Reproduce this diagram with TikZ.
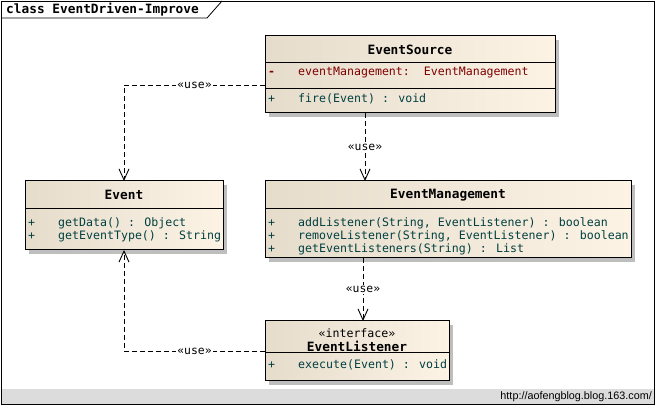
\documentclass[tikz,border=0pt]{standalone}
\usepackage{fontspec}
\usetikzlibrary{arrows.meta,calc,shadows}
\newfontfamily\umono{DejaVu Sans Mono}
\newfontfamily\usans{Liberation Sans}
\definecolor{membc}{RGB}{0,64,64}
\definecolor{attrc}{RGB}{128,0,0}
\definecolor{boxl}{RGB}{230,220,204}
\definecolor{boxr}{RGB}{252,243,229}
\definecolor{shadowc}{RGB}{190,190,190}
\definecolor{bandc}{RGB}{220,220,220}
\tikzset{
  umlbox/.style={draw=black, line width=1pt, left color=boxl, right color=boxr,
    drop shadow={shadow xshift=4pt, shadow yshift=-4pt, fill=shadowc, opacity=1},
    anchor=north west, inner sep=0pt, outer sep=0pt},
  hdr/.style={font=\umono\bfseries\fontsize{12.8}{14}\selectfont, inner sep=0pt},
  stereo/.style={font=\umono\fontsize{11.6}{13}\selectfont, inner sep=0pt},
  memb/.style={font=\umono\fontsize{11.6}{13}\selectfont, text=membc, anchor=west, inner sep=0pt},
  attr/.style={font=\umono\fontsize{11.6}{13}\selectfont, text=attrc, anchor=west, inner sep=0pt},
  sepline/.style={draw=black, line width=0.9pt},
  usedep/.style={draw=black, line width=0.9pt, dash pattern=on 5pt off 3pt,
    -{Straight Barb[length=11pt,width=10pt,line width=0.9pt]}},
  uselbl/.style={font=\umono\fontsize{11.4}{12}\selectfont, fill=white, inner sep=1pt}
}
\begin{document}
\begin{tikzpicture}[x=1pt,y=-1pt]
\useasboundingbox (0,0) rectangle (657,406);
% frame
\fill[bandc] (1,389) rectangle (654,404);
\draw[line width=0.8pt] (1,1) rectangle (654,404);
\draw[line width=0.8pt] (1,18) -- (207,18) -- (222,1);
\node[font=\umono\bfseries\fontsize{12.8}{14}\selectfont, anchor=west, inner sep=0pt] (title) at (6,10) {class EventDriven-Improve};
\node[font=\usans\fontsize{10.8}{12}\selectfont, anchor=east, inner sep=0pt] (url) at (652,397) {http://aofengblog.blog.163.com/};

% EventSource
\node[umlbox, minimum width=290pt, minimum height=77pt] (es) at (265,36) {};
\draw[sepline] (es.west |- 0,62) -- (es.east |- 0,62);
\draw[sepline] (es.west |- 0,88) -- (es.east |- 0,88);
\node[hdr] (esn) at (410,50) {EventSource};
\node[attr] (esa1) at (268,73) {\textbf{-}};
\node[attr] (esa2) at (298,73) {eventManagement:\ \ EventManagement};
\node[memb] (eso1) at (268,99) {+};
\node[memb] (eso2) at (298,99) {fire(Event) : void};

% Event
\node[umlbox, minimum width=198pt, minimum height=69pt] (ev) at (25,181) {};
\draw[sepline] (ev.west |- 0,208) -- (ev.east |- 0,208);
\node[hdr] (evn) at (124,195) {Event};
\node[memb] (evo1) at (28,223) {+};
\node[memb] (evo2) at (58,223) {getData() : Object};
\node[memb] (evo3) at (28,236) {+};
\node[memb] (evo4) at (58,236) {getEventType() : String};

% EventManagement
\node[umlbox, minimum width=366pt, minimum height=77pt] (em) at (265,181) {};
\draw[sepline] (em.west |- 0,208) -- (em.east |- 0,208);
\node[hdr] (emn) at (448,195) {EventManagement};
\node[memb] (emo1) at (268,223) {+};
\node[memb] (emo2) at (298,223) {addListener(String, EventListener) : boolean};
\node[memb] (emo3) at (268,236) {+};
\node[memb] (emo4) at (298,236) {removeListener(String, EventListener) : boolean};
\node[memb] (emo5) at (268,249) {+};
\node[memb] (emo6) at (298,249) {getEventListeners(String) : List};

% EventListener
\node[umlbox, minimum width=184pt, minimum height=60pt] (el) at (265,321) {};
\draw[sepline] (el.west |- 0,352) -- (el.east |- 0,352);
\node[stereo] (els) at (357,333) {«interface»};
\node[hdr] (eln) at (357,346) {EventListener};
\node[memb] (elo1) at (268,365) {+};
\node[memb] (elo2) at (298,365) {execute(Event) : void};

% dependencies
\draw[usedep] (es.west |- 0,85) -| node[uselbl, pos=0.25] {«use»} (ev.north);
\draw[usedep] (es.south -| 365,0) -- node[uselbl] {«use»} (em.north -| 365,0);
\draw[usedep] (em.south -| 363,0) -- node[uselbl] {«use»} (el.north -| 363,0);
\draw[usedep] (el.west |- 0,351) -| node[uselbl, pos=0.25] {«use»} (ev.south);
\end{tikzpicture}
\end{document}
